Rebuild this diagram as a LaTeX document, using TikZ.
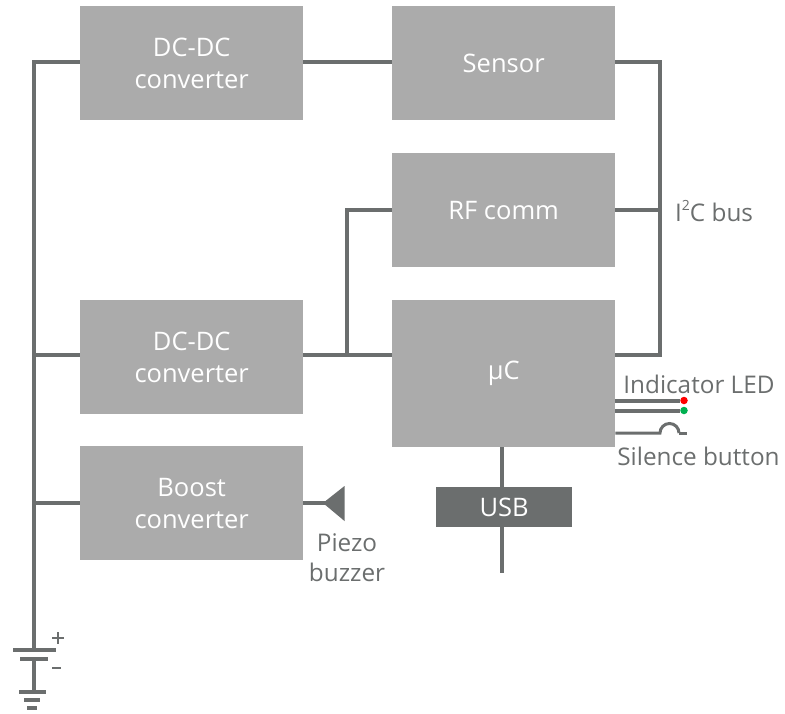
\documentclass[tikz,border=0pt]{standalone}
\usepackage{fontspec}
\setmainfont{Open Sans}
\usetikzlibrary{calc}
\definecolor{boxg}{HTML}{ABABAB}
\definecolor{lineg}{HTML}{6B6E6E}
\definecolor{ledgreen}{HTML}{00B050}
\tikzset{
  x=1pt,y=-1pt,
  block/.style={fill=boxg,text=white,minimum width=223pt,minimum height=114pt,inner sep=0pt,align=center,font=\fontsize{25.5}{32}\selectfont,anchor=north west},
  usbbox/.style={fill=lineg,text=white,minimum width=136pt,minimum height=40pt,inner sep=0pt,font=\fontsize{25.5}{32}\selectfont,anchor=north west},
  wire/.style={draw=lineg,line width=4pt},
  thinwire/.style={draw=lineg,line width=3pt},
  lbl/.style={text=lineg,inner sep=0pt,align=center,font=\fontsize{24.3}{30}\selectfont},
  led/.style={circle,inner sep=0pt,minimum size=7.5pt},
}
\newcommand{\supertwo}{\raisebox{0.42em}{\fontsize{14}{14}\selectfont 2}}
\begin{document}
\begin{tikzpicture}
\useasboundingbox (0,0) rectangle (785,713);
\coordinate (busT) at (34,62);
\coordinate (busM) at (34,355);
\coordinate (busB) at (34,503);
\coordinate (busEnd) at (34,650);
\coordinate (i2cT) at (660,62);
\coordinate (i2cM) at (660,210);
\coordinate (i2cB) at (660,355);
\coordinate (rfJ) at (347,355);
\coordinate (rfC) at (347,210);
\coordinate (usbEnd) at (502,573);
\node[block] (dc1) at (80,6) {DC-DC\\converter};
\node[block] (sensor) at (392,6) {Sensor};
\node[block] (rf) at (392,153) {RF comm};
\node[block,minimum height=147pt] (uc) at (392,300) {µC};
\node[block] (dc2) at (80,300) {DC-DC\\converter};
\node[block] (boost) at (80,446) {Boost\\converter};
\node[usbbox] (usb) at (436,487) {USB};
\draw[wire,line cap=rect] (busT) -- (busEnd);
\draw[wire] (busT) -- (busT-|dc1.west);
\draw[wire] (busM) -- (busM-|dc2.west);
\draw[wire] (busB) -- (busB-|boost.west);
\draw[wire] (dc1.east|-busT) -- (sensor.west|-busT);
\draw[wire] (dc2.east|-busM) -- (uc.west|-busM);
\draw[wire] (rfJ) -- (rfC) -- (rfC-|rf.west);
\draw[wire] (sensor.east|-i2cT) -- (i2cT) -- (i2cB) -- (uc.east|-i2cB);
\draw[wire] (rf.east|-i2cM) -- (i2cM);
\draw[wire] (uc.south-|usbEnd) -- (usb.north-|usbEnd);
\draw[wire] (usb.south-|usbEnd) -- (usbEnd);
% battery and ground
\coordinate (p1L) at (13,650); \coordinate (p1R) at (56,650);
\coordinate (p2L) at (20,659); \coordinate (p2R) at (48,659);
\coordinate (g1L) at (19,692); \coordinate (g1R) at (46,692);
\coordinate (g2L) at (24,699.5); \coordinate (g2R) at (40,699.5);
\coordinate (g3L) at (27,708); \coordinate (g3R) at (37,708);
\draw[wire] (p1L) -- (p1R);
\draw[wire] (p2L) -- (p2R);
\draw[wire] (34,659) -- (34,692);
\draw[wire] (g1L) -- (g1R);
\draw[wire] (g2L) -- (g2R);
\draw[wire] (g3L) -- (g3R);
\draw[draw=lineg,line width=1.8pt] (52,638) -- (64,638) (58,632) -- (58,644);
\draw[draw=lineg,line width=1.8pt] (52,668) -- (61,668);
% piezo
\coordinate (pzTip) at (328,503);
\fill[lineg] (323,503) -- (344.5,486) -- (344.5,521) -- cycle;
\draw[wire] (boost.east|-pzTip) -- (pzTip);
% LEDs and button
\node[led,fill=red] (ledR) at (684,400.5) {};
\node[led,fill=ledgreen] (ledG) at (684,410.5) {};
\coordinate (btnA) at (660,433);
\coordinate (btnB) at (679,433);
\coordinate (btnEnd) at (687,433);
\draw[wire] (uc.east|-ledR) -- (ledR);
\draw[wire] (uc.east|-ledG) -- (ledG);
\draw[thinwire] (uc.east|-btnA) -- (btnA) arc[start angle=180,end angle=0,radius=9.5pt];
\draw[thinwire] (btnB) -- (btnEnd);
% labels
\node[lbl,anchor=west] (i2c) at (675,211) {I\supertwo C bus};
\node[lbl] (indlbl) at (699,384) {Indicator LED};
\node[lbl] (sillbl) at (698.5,456) {Silence button};
\node[lbl] (pzlbl) at (347,558) {Piezo\\buzzer};
\end{tikzpicture}
\end{document}
